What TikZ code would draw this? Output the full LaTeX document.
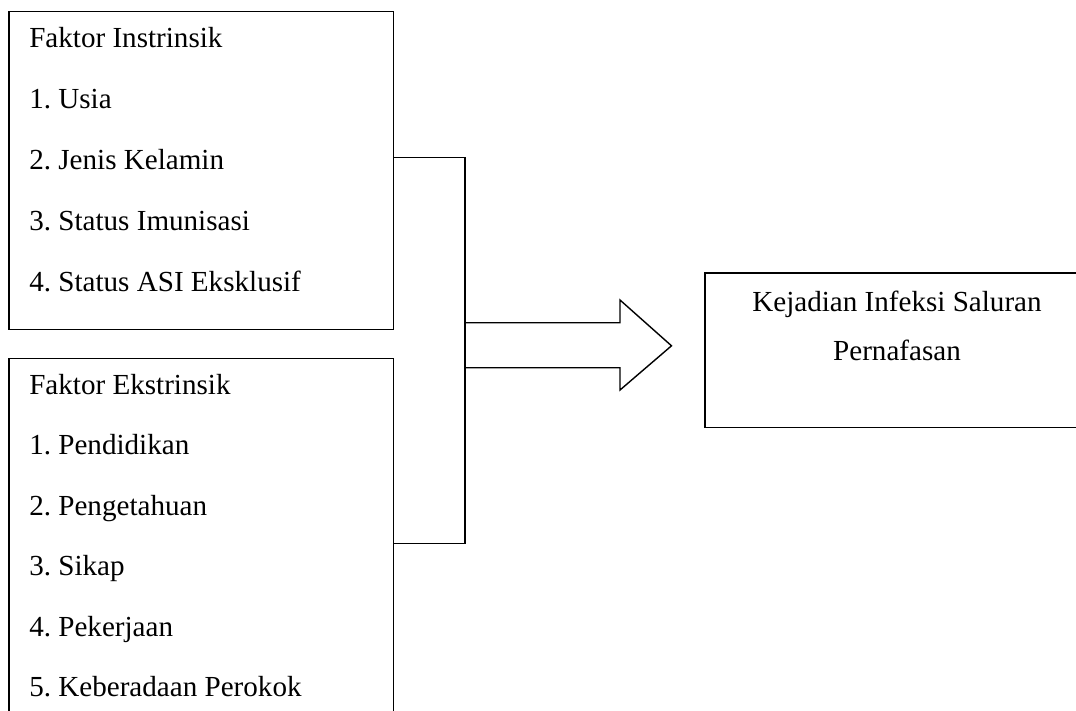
\documentclass[tikz,border=0pt]{standalone}
\usepackage{fontspec}
\setmainfont{Liberation Serif}
\usepackage{tikz}
\usetikzlibrary{positioning, calc}
\frenchspacing
\tikzset{
  kerangka/box/.style   = {rectangle, draw=black, line width=1pt, fill=none,
                           inner sep=0pt, anchor=north west},
  kerangka/item/.style  = {anchor=base west, inner sep=0pt,
                           font=\fontsize{20.7}{24}\selectfont},
  kerangka/title/.style = {anchor=base, inner sep=0pt,
                           font=\fontsize{20.7}{24}\selectfont},
  kerangka/line/.style  = {draw=black, line width=1pt},
  kerangka/block/.style = {draw=black, line width=1pt, line join=miter},
}
\begin{document}
\begin{tikzpicture}
  % --- page frame (boxes run past the right and bottom edges) ---
  \clip (0,0) rectangle (26.9,-17.75);
  \def\xText {0.725}
  \def\xJoin {11.625}
  % --- Left boxes ---
  \node[kerangka/box, minimum width=9.6125cm, minimum height=7.9575cm] (inBox) at (0.2125,-0.2675) {};
  \node[kerangka/box, minimum width=9.6125cm, minimum height=9.6cm]    (exBox) at (0.2125,-8.9425) {};
  % --- Items, one node per line ---
  \foreach \txt [count=\i from 0] in {Faktor Instrinsik, 1. Usia, 2. Jenis Kelamin,
                                      3. Status Imunisasi, 4. Status ASI Eksklusif}
    \node[kerangka/item] (in\i) at (\xText, -1.175-1.525*\i) {\txt};
  \foreach \txt [count=\i from 0] in {Faktor Ekstrinsik, 1. Pendidikan, 2. Pengetahuan,
                                      3. Sikap, 4. Pekerjaan, 5. Keberadaan Perokok}
    \node[kerangka/item] (ex\i) at (\xText, -9.85-1.5125*\i) {\txt};
  % --- Outcome box ---
  \node[kerangka/box, minimum width=9.64cm, minimum height=3.86cm] (outBox) at (17.6075,-6.8075) {};
  \node[kerangka/title] (out1) at (22.425,-7.775) {Kejadian Infeksi Saluran};
  \node[kerangka/title] (out2) at (22.425,-9.0)   {Pernafasan};
  % --- Bracket joining both factor boxes ---
  \coordinate (topJoin) at (\xJoin,-3.9425);
  \coordinate (botJoin) at (\xJoin,-13.5825);
  \draw[kerangka/line] (inBox.east |- topJoin) -- (topJoin) -- (botJoin) -- (exBox.east |- botJoin);
  % --- Block arrow towards the outcome ---
  \coordinate (shaftTop) at (\xJoin,-8.0675);
  \coordinate (shaftBot) at (\xJoin,-9.1925);
  \coordinate (tip)      at ($(outBox.west)+(-0.82,0.11)$);
  \draw[kerangka/block] (shaftTop) -- ++(3.875,0) -- ++(0,0.5675) -- (tip)
                        -- ($(shaftBot)+(3.875,-0.5575)$) -- ($(shaftBot)+(3.875,0)$) -- (shaftBot);
\end{tikzpicture}
\end{document}
